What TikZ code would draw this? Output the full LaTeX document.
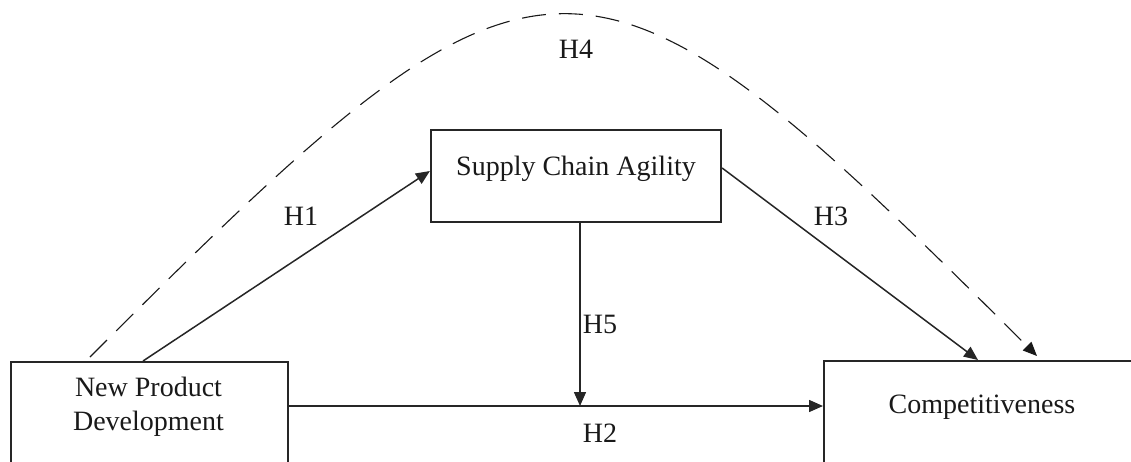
\documentclass[tikz,border=0pt]{standalone}
\usepackage{fontspec}
\setmainfont{Liberation Serif}
\usetikzlibrary{arrows.meta,calc}
\begin{document}
\begin{tikzpicture}[x=1pt,y=-1pt,
  box/.style={draw=black!85, line width=2.2pt, rectangle, inner sep=0pt},
  lbl/.style={font=\fontsize{28}{34}\selectfont, inner sep=0pt, text=black!90},
  link/.style={draw=black!85, line width=1.5pt, -{Triangle[length=14pt,width=12pt]}},
  dlink/.style={draw=black!90, line width=1.1pt, dash pattern=on 24pt off 13pt, -{Triangle[length=14pt,width=12pt]}}]
\useasboundingbox (0,0) rectangle (1131,461);
\clip (0,0) rectangle (1131,461);
% boxes
\node[box, anchor=north west, minimum width=277pt, minimum height=140pt] (npd) at (10,361) {};
\node[lbl, align=center] (npdt) at (148.5,407) {New Product\\Development};
\node[box, anchor=north west, minimum width=340pt, minimum height=140pt] (comp) at (823,360) {};
\node[lbl, anchor=base] (compt) at (982,413) {Competitiveness};
\node[box, minimum width=290pt, minimum height=92pt] (sca) at (576,176) {};
\node[lbl, anchor=base] (scat) at (576,175) {Supply Chain Agility};
% helper coordinates
\coordinate (h1s) at ($(npd.north west)+(133,0)$);
\coordinate (h1e) at ($(sca.west)+(0,-5)$);
\coordinate (h3s) at ($(sca.east)+(0,-8)$);
\coordinate (h3e) at ($(comp.north west)+(155,0)$);
\coordinate (h2s) at ($(npd.north east)+(0,45)$);
\coordinate (h2e) at ($(comp.north west)+(0,46)$);
\coordinate (h5s) at ($(sca.south)+(4,0)$);
\coordinate (h5e) at (h5s |- h2s);
\coordinate (h4s) at ($(npd.north west)+(80,-4)$);
\coordinate (h4e) at ($(comp.north west)+(214,-4)$);
% connectors
\draw[link] (h1s) -- (h1e);
\draw[link] (h3s) -- (h3e);
\draw[link] (h2s) -- (h2e);
\draw[link] (h5s) -- (h5e);
\draw[dlink] (h4s) .. controls (546,-99) and (581,-99) .. (h4e);
% labels
\node[lbl] (lh1) at (301,216) {H1};
\node[lbl] (lh3) at (831,216) {H3};
\node[lbl] (lh5) at (600,324) {H5};
\node[lbl] (lh2) at (600,433.5) {H2};
\node[lbl] (lh4) at (576,49) {H4};
\end{tikzpicture}
\end{document}
